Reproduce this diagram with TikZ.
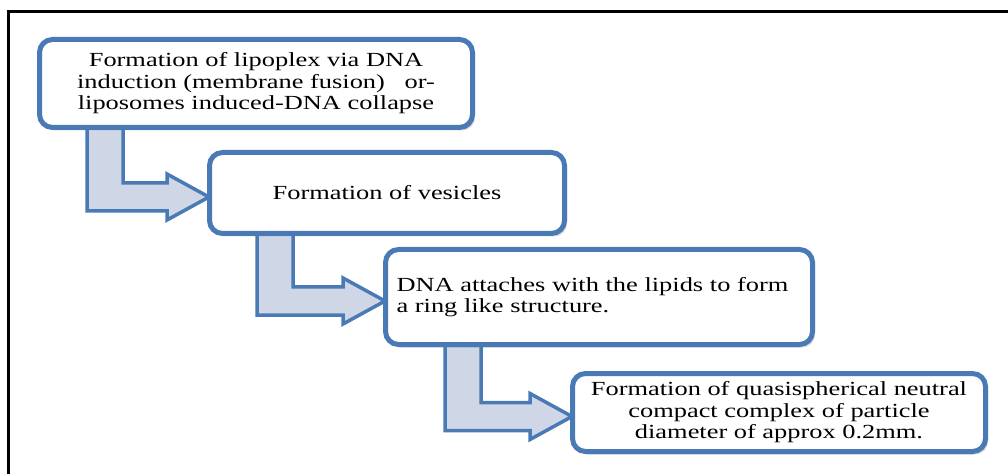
\documentclass[tikz,border=0pt]{standalone}
\usepackage{fontspec}
\setmainfont{Liberation Serif}[FakeStretch=1.32]
\usepackage{tikz}
\usetikzlibrary{calc, shadows, backgrounds}
\usepackage{xcolor}
\definecolor{caixaazul}{RGB}{74,122,181}
\definecolor{setafundo}{RGB}{207,215,230}

\tikzset{
  caixa/.style={draw=caixaazul, line width=5pt, rounded corners=13pt, fill=white,
    font=\fontsize{20}{21.5}\selectfont, align=center, inner sep=0pt,
    drop shadow={shadow xshift=2.5pt, shadow yshift=-3pt, opacity=0.3}},
  seta/.style={draw=caixaazul, line width=3.5pt, fill=setafundo, line join=miter}
}

% seta dobrada: #1 origem, #2 destino, #3 posicao do tronco
\newcommand{\seta}[3]{%
  \draw[seta] let \p1=($(#1.south west)+(#3,0)$), \p2=($(#2.west)+(2,-4)$) in
    (\x1-18pt,\y1+4pt) -- (\x1-18pt,\y2-14pt) -- (\x2-42pt,\y2-14pt) -- (\x2-42pt,\y2-23pt)
    -- (\x2,\y2) -- (\x2-42pt,\y2+23pt) -- (\x2-42pt,\y2+14pt) -- (\x1+18pt,\y2+14pt)
    -- (\x1+18pt,\y1+4pt) -- cycle;
}

\begin{document}
\begin{tikzpicture}[x=1pt, y=1pt]
        \useasboundingbox (0,0) rectangle (1008,474);
        \draw[line width=3pt] (8,0) -- (8,462) -- (1008,462);

        % Caixas
        \node[caixa, minimum width=433pt, minimum height=88pt] (passo1) at (256,390.5)
          {Formation of lipoplex via DNA\\ induction (membrane fusion)\ \ \ or-\\ liposomes induced-DNA collapse};
        \node[caixa, minimum width=355pt, minimum height=81pt] (passo2) at (387,281)
          {Formation of vesicles};
        \node[caixa, text width=405pt, inner xsep=11pt, minimum height=95pt, align=left] (passo3) at (599,177)
          {DNA attaches with the lipids to form\\ a ring like structure.};
        \node[caixa, minimum width=413pt, minimum height=78pt] (passo4) at (779,61.5)
          {Formation of quasispherical neutral\\ compact complex of particle\\ diameter of approx 0.2mm.};

        % Setas
        \begin{scope}[on background layer]
          \seta{passo1}{passo2}{68}
          \seta{passo2}{passo3}{68}
          \seta{passo3}{passo4}{80}
        \end{scope}
    \end{tikzpicture}
\end{document}
